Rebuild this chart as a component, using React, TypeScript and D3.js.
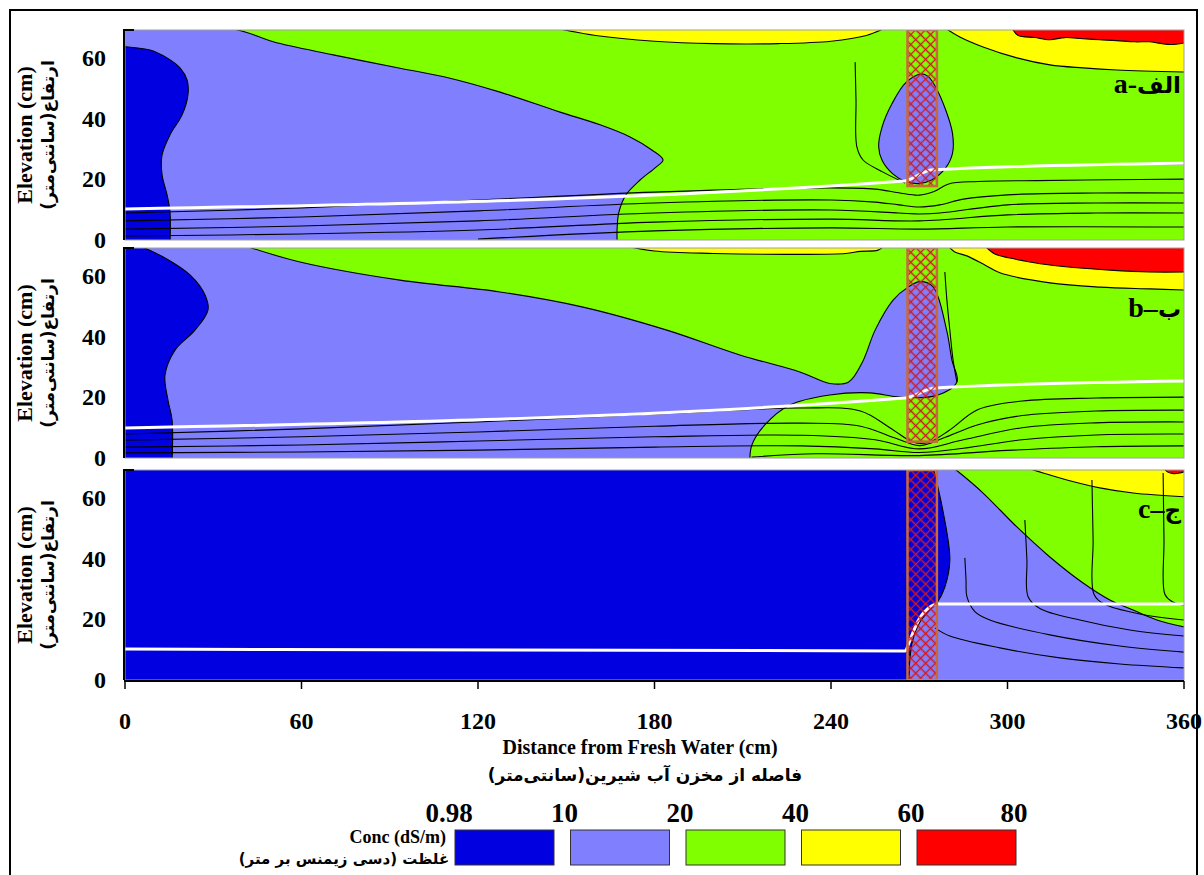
import React from 'react';
import * as d3 from 'd3';

type P = [number, number];

// ---------- data (distance cm, elevation cm) ----------
const xTicks = [0, 60, 120, 180, 240, 300, 360];
const yTicks = [0, 20, 40, 60];
const legendBreaks = ['0.98', '10', '20', '40', '60', '80'];
const COL = { dark: '#0000e0', light: '#8080ff', green: '#80ff00', yellow: '#ffff00', red: '#ff0000' };
const legendColors = [COL.dark, COL.light, COL.green, COL.yellow, COL.red];
const ELEV_MAX = 69.3;
const barrierX: P = [266, 276];
const barrierBottom = [17.8, 5.4, 0];

// Panel a
const aLight: P[] = [[35.1, 70], [41.4, 68.5], [50.4, 65.4], [70.8, 61.1], [93.5, 56.7], [110.5, 53.4], [127.5, 48.8], [147.9, 42.2], [161.5, 38], [171.7, 34], [179.1, 29.7], [182.9, 26.4], [180.2, 23.8], [175.1, 19.8], [170.3, 14.9], [167.9, 9.2], [167.3, 4], [167.3, -1]];
const aDark: P[] = [[-2, 63.9], [0, 63.8], [8.5, 62.7], [14.3, 60.1], [18.7, 56.8], [21.1, 52.8], [21.4, 47.9], [19.4, 41.3], [15.3, 34.7], [12.6, 28.1], [12.6, 21.5], [14.3, 14.9], [15.3, 9.2], [15.3, -1]];
const aBulb: P[] = [[270.6, 54.8], [265.5, 52], [260.8, 45.1], [257.4, 37.4], [256.2, 30.8], [257.4, 26.2], [261, 21.8], [265.1, 19.4], [269.6, 18.6], [274.2, 19.8], [278.9, 23.7], [281.3, 28.6], [281.3, 35.2], [279, 42.9], [275.5, 50.6], [273, 54]];
const aYellowTop: P[] = [[146, 70], [160, 67.5], [180, 65.6], [200, 64.8], [222, 64.8], [240, 65.6], [252, 67.5], [258.5, 70]];
const aYellowRight: P[] = [[278.7, 70], [283.8, 67], [291.7, 63.7], [303.2, 60.1], [314.4, 57.8], [325.7, 56.8], [337.2, 56.1], [361, 55.4]];
const aRed: P[] = [[301.5, 70], [303.5, 67.6], [309.3, 66.8], [314.4, 66.1], [319.5, 66.8], [325.7, 66.4], [331.4, 66.1], [337.2, 65.8], [343.3, 65.4], [348.4, 65.4], [355.2, 64.5], [361, 65.2]];
const aLines: P[][] = [
  [[0, 8.9], [60, 10.6], [120, 13.2], [180, 15.8], [240, 17.2], [255, 16.8], [263, 15.6], [270, 14.8], [275, 16], [280, 18.5], [290, 19.3], [310, 19.6], [335, 19.9], [360, 20.1]],
  [[0, 6.3], [60, 7.6], [120, 9.6], [180, 12.2], [240, 13.2], [255, 12.5], [263, 11.6], [270, 10.9], [277, 11.6], [285, 13.5], [300, 14.9], [330, 15.5], [360, 15.5]],
  [[0, 3.6], [60, 4.6], [120, 6.3], [180, 8.9], [240, 9.9], [263, 8.9], [270, 8.6], [277, 8.9], [300, 11.6], [330, 12.2], [360, 12.2]],
  [[0, 1.3], [60, 2], [120, 3.3], [180, 5.9], [240, 6.9], [270, 6.3], [300, 8.3], [330, 8.9], [360, 8.9]],
  [[120, 0.3], [180, 3], [240, 4], [270, 3.6], [300, 4.3], [360, 4.3]],
  [[318, 24.6], [340, 24.9], [360, 25]],
  [[248.2, 58.7], [248.5, 46.2], [248.8, 30.7], [250.9, 26.4], [257.7, 22.4], [265.2, 18.8]],
];
const aWater: P[] = [[0, 10.2], [265, 19.5], [274, 23.1], [360, 25.3]];

// Panel b
const bLight: P[] = [[40.8, 70], [59.5, 64.7], [93.5, 58.7], [127.5, 54.8], [155.7, 49.8], [184.2, 42.2], [209, 34], [229.4, 28.4], [239.6, 24.6], [246, 25.1], [250.7, 31.7], [255, 42.2], [261.1, 52.1], [266.2, 56.4], [270.2, 58.2], [274.7, 56.5], [279.3, 42.2], [281.1, 32.3], [282.8, 25.1], [275.3, 20.5], [263.4, 20.1], [253.2, 21.5], [239.6, 20.8], [226, 17.5], [217.5, 10.9], [213.1, 4.3], [212.4, -1]];
const bDark: P[] = [[5.1, 70], [13.6, 66], [22.1, 60.4], [27.2, 53.8], [28.2, 48.8], [23.8, 42.2], [17, 35.6], [13.6, 27.4], [14.6, 19.1], [16, 12.5], [16, -1]];
const bYellowTop: P[] = [[170, 70], [180, 68.3], [200, 67.5], [230, 67.2], [245, 67.5], [250, 68.2], [256, 68.6], [258, 70]];
const bYellowRight: P[] = [[279.8, 70], [282.1, 68], [286.2, 66.7], [292.3, 63.7], [297.4, 61.1], [314.4, 57.8], [331.4, 56.4], [348.4, 55.8], [361, 55.4]];
const bRed: P[] = [[292.3, 70], [295.7, 67.3], [300.8, 66], [307.6, 64.7], [314.4, 63.7], [324.6, 62.7], [334.8, 62], [348.4, 61.4], [361, 61.4]];
const bLines: P[][] = [
  [[0, 7.9], [60, 9.6], [120, 11.9], [180, 14.5], [230, 16.5], [250, 15.5], [260, 10], [268, 5.2], [273, 5.1], [280, 9], [290, 16], [305, 18.8], [330, 19.8], [360, 20.1]],
  [[0, 5.9], [60, 7], [120, 8.6], [180, 10.5], [230, 11.5], [250, 10.5], [262, 6.5], [270, 4.1], [278, 6.5], [290, 11], [305, 14], [330, 15.5], [360, 15.8]],
  [[0, 3.6], [60, 4.3], [120, 5.6], [180, 7], [230, 7.5], [255, 6], [270, 3], [285, 6], [305, 10], [330, 11.6], [360, 11.9]],
  [[0, 1.7], [60, 2], [120, 2.6], [180, 3.6], [230, 4], [255, 3], [270, 1.8], [285, 3.2], [305, 6], [330, 7.6], [360, 7.9]],
  [[213, 0.3], [235, 1.4], [270, 0.8], [300, 2.5], [330, 3.7], [360, 4]],
  [[278.7, 61.4], [279.4, 52.1], [280.4, 42.2], [281.5, 32.3], [282.8, 25.1]],
];
const bWater: P[] = [[0, 9.9], [265, 19.8], [275.3, 23.1], [360, 25.4]];

// Panel c
const cDark: P[] = [[274.6, 70.5], [278, 56.1], [280.4, 39.6], [278.7, 30.7], [276, 25.4], [273.6, 23.1], [270.2, 19.1], [267.8, 13.2], [266.8, 6.6], [266.5, -1]];
const cGreen: P[] = [[281.5, 70], [283.8, 68.3], [291.7, 61.7], [303.2, 50.5], [314.4, 40.6], [325.7, 32], [334.8, 26.4], [342.7, 23.1], [350.8, 19.8], [361, 17.3]];
const cYellow: P[] = [[306.6, 70], [312.1, 68.3], [320.2, 66], [331.4, 63.4], [342.7, 61.7], [361, 60.4]];
const cRed: P[] = [[353, 70], [354.5, 68.6], [356.5, 68.1], [358.5, 68.3], [361, 69]];
const cLines: P[][] = [
  [[285.5, 40.3], [285.9, 33], [286.2, 27.5], [288.9, 22.6], [294, 19.8], [314.4, 14.9], [338.2, 11.2], [360, 9.2]],
  [[305.9, 52.8], [306.6, 39.6], [307, 27.5], [311, 23.6], [324.6, 19.8], [341.6, 16.5], [360, 14.5]],
  [[328.7, 66], [329.1, 46.2], [329.4, 28.3], [333.1, 25], [345, 21.8], [360, 19.8]],
  [[352.9, 68.3], [353.2, 46.2], [353.5, 28.3], [355.9, 25.9], [360, 24.6]],
  [[275.3, 17.2], [280.4, 14.5], [297.4, 10.6], [317.8, 7.3], [338.2, 5.3], [360, 4]],
];
const cWater: P[] = [[0, 10.2], [265.2, 9.6], [266.6, 12.5], [268, 16], [270.2, 20.5], [273, 23.6], [276, 25.1], [360, 25.1]];

// ---------- layout ----------
const X = d3.scaleLinear().domain([0, 360]).range([125, 1184]);
const panelTops = [30, 248, 470];
const PH = 210;
const labelBaseline = [63, 69, 48];

type Region = { color: string; pts: P[]; corners: P[]; closed?: boolean };

const topCorners = (pts: P[]): P[] => {
  const f = pts[0], l = pts[pts.length - 1];
  return [[l[0], 80], [f[0], 80]];
};
const rightCorners = (pts: P[]): P[] => {
  const f = pts[0], l = pts[pts.length - 1];
  return [[370, l[1]], [370, 80], [f[0], 80]];
};
const leftCorners = (pts: P[]): P[] => {
  const f = pts[0];
  return [[-10, -10], [-10, 80], [f[0], 80]];
};

const panels: { base: string; regions: Region[]; lines: P[][]; water: P[]; latin: string; arabic: string }[] = [
  {
    base: COL.green,
    regions: [
      { color: COL.light, pts: aLight, corners: leftCorners(aLight) },
      { color: COL.dark, pts: aDark, corners: [[-10, -10], [-10, 63.9]] },
      { color: COL.light, pts: aBulb, corners: [], closed: true },
      { color: COL.yellow, pts: aYellowTop, corners: topCorners(aYellowTop) },
      { color: COL.yellow, pts: aYellowRight, corners: rightCorners(aYellowRight) },
      { color: COL.red, pts: aRed, corners: rightCorners(aRed) },
    ],
    lines: aLines, water: aWater, latin: 'a-', arabic: 'الف',
  },
  {
    base: COL.green,
    regions: [
      { color: COL.light, pts: bLight, corners: leftCorners(bLight) },
      { color: COL.dark, pts: bDark, corners: leftCorners(bDark) },
      { color: COL.yellow, pts: bYellowTop, corners: topCorners(bYellowTop) },
      { color: COL.yellow, pts: bYellowRight, corners: rightCorners(bYellowRight) },
      { color: COL.red, pts: bRed, corners: rightCorners(bRed) },
    ],
    lines: bLines, water: bWater, latin: 'b–', arabic: 'ب',
  },
  {
    base: COL.light,
    regions: [
      { color: COL.dark, pts: cDark, corners: leftCorners(cDark) },
      { color: COL.green, pts: cGreen, corners: rightCorners(cGreen) },
      { color: COL.yellow, pts: cYellow, corners: rightCorners(cYellow) },
      { color: COL.red, pts: cRed, corners: rightCorners(cRed) },
    ],
    lines: cLines, water: cWater, latin: 'c–', arabic: 'ج',
  },
];

const SERIF = "'Liberation Serif', 'Times New Roman', serif";
const FA = "'DejaVu Sans', sans-serif";

function Panel({ idx }: { idx: number }) {
  const p = panels[idx];
  const top = panelTops[idx];
  const Y = d3.scaleLinear().domain([0, ELEV_MAX]).range([top + PH, top]);
  const open = d3.line<P>().x(d => X(d[0])).y(d => Y(d[1])).curve(d3.curveCatmullRom.alpha(0.5));
  const closed = d3.line<P>().x(d => X(d[0])).y(d => Y(d[1])).curve(d3.curveCatmullRomClosed.alpha(0.5));
  const water = d3.line<P>().x(d => X(d[0])).y(d => Y(d[1])).curve(d3.curveMonotoneX);
  const regionPath = (r: Region) =>
    r.closed ? closed(r.pts) : open(r.pts) + r.corners.map(c => `L${X(c[0])},${Y(c[1])}`).join('') + 'Z';
  const bx0 = X(barrierX[0]), bx1 = X(barrierX[1]);
  const by0 = Y(ELEV_MAX), by1 = Y(barrierBottom[idx]);
  const cy = top + PH / 2;
  return (
    <g>
      <g clipPath={`url(#clip${idx})`}>
        <rect x={X(0)} y={top} width={X(360) - X(0)} height={PH} fill={p.base} />
        {p.regions.map((r, i) => (
          <path key={i} d={regionPath(r)} fill={r.color} stroke="#000" strokeWidth={1.1} strokeLinejoin="round" />
        ))}
        {p.lines.map((l, i) => (
          <path key={i} d={open(l) || ''} fill="none" stroke="#000" strokeWidth={1.1} />
        ))}
        <path d={water(p.water) || ''} fill="none" stroke="#fff" strokeWidth={3} />
        <rect x={bx0} y={by0} width={bx1 - bx0} height={by1 - by0} fill="url(#hatch)" stroke="#c8693c" strokeWidth={2.5} />
      </g>
      <rect x={X(0)} y={top} width={X(360) - X(0)} height={PH} fill="none" stroke="#a0a0a0" strokeWidth={1} />
      <path d={`M${X(0) + 9},${top}H${X(0) - 1}V${top + PH}`} fill="none" stroke="#000" strokeWidth={2} />
      {yTicks.map(v => (
        <text key={v} x={106} y={Y(v) + 8} textAnchor="end" fontFamily={SERIF} fontWeight="bold" fontSize={24}>{v}</text>
      ))}
      <text transform={`translate(32,${cy}) rotate(-90)`} textAnchor="middle" fontFamily={SERIF} fontWeight="bold" fontSize={22}>Elevation (cm)</text>
      <text transform={`translate(54,${cy}) rotate(-90)`} textAnchor="middle" fontFamily={FA} fontWeight="bold" fontSize={17} style={{ direction: 'rtl', unicodeBidi: 'embed' }}>ارتفاع(سانتی‌متر)</text>
      <text x={1181} y={top + labelBaseline[idx]} textAnchor="end" fontWeight="bold" style={{ direction: 'ltr' }}>
        <tspan fontFamily={SERIF} fontSize={28}>{p.latin}</tspan>
        <tspan fontFamily={FA} fontSize={23}>{p.arabic}</tspan>
      </text>
    </g>
  );
}

export default function App() {
  const axisY = panelTops[2] + PH + 1;
  const boxX = (i: number) => 455 + i * 115.5;
  const boxW = 99;
  return (
    <svg width={1204} height={875} style={{ position: 'absolute', left: 0, top: 0, background: '#fff' }}>
      <defs>
        <pattern id="hatch" patternUnits="userSpaceOnUse" width={7} height={7} patternTransform="rotate(45)">
          <path d="M0,3.5H7M3.5,0V7" stroke="#cc1a22" strokeWidth={1.3} />
        </pattern>
        {panelTops.map((t, i) => (
          <clipPath id={`clip${i}`} key={i}>
            <rect x={X(0)} y={t} width={X(360) - X(0)} height={PH} />
          </clipPath>
        ))}
      </defs>
      <rect x={10} y={10} width={1187} height={880} fill="none" stroke="#000" strokeWidth={2} />
      {panels.map((_, i) => <Panel key={i} idx={i} />)}
      <line x1={X(0) - 1} x2={X(360)} y1={axisY} y2={axisY} stroke="#000" strokeWidth={2} />
      {xTicks.map(v => (
        <g key={v}>
          <line x1={X(v)} x2={X(v)} y1={axisY} y2={axisY + 8} stroke="#000" strokeWidth={1.5} />
          <text x={X(v)} y={729} textAnchor="middle" fontFamily={SERIF} fontWeight="bold" fontSize={24}>{v}</text>
        </g>
      ))}
      <text x={640} y={754} textAnchor="middle" fontFamily={SERIF} fontWeight="bold" fontSize={20}>Distance from Fresh Water (cm)</text>
      <text x={645} y={781} textAnchor="middle" fontFamily={FA} fontWeight="bold" fontSize={17} style={{ direction: 'rtl', unicodeBidi: 'embed' }}>فاصله از مخزن آب شیرین(سانتی‌متر)</text>
      {legendColors.map((c, i) => (
        <rect key={i} x={boxX(i)} y={830} width={boxW} height={35} fill={c} stroke="#333" strokeWidth={1} />
      ))}
      {legendBreaks.map((t, j) => (
        <text key={t} x={j < 5 ? boxX(j) - 6 : boxX(4) + boxW - 2} y={822} textAnchor="middle" fontFamily={SERIF} fontWeight="bold" fontSize={27}>{t}</text>
      ))}
      <text x={446} y={843} textAnchor="end" fontFamily={SERIF} fontWeight="bold" fontSize={18}>Conc (dS/m)</text>
      <text x={344} y={864} textAnchor="middle" fontFamily={FA} fontWeight="bold" fontSize={15} style={{ direction: 'rtl', unicodeBidi: 'embed' }}>غلظت (دسی زیمنس بر متر)</text>
    </svg>
  );
}
